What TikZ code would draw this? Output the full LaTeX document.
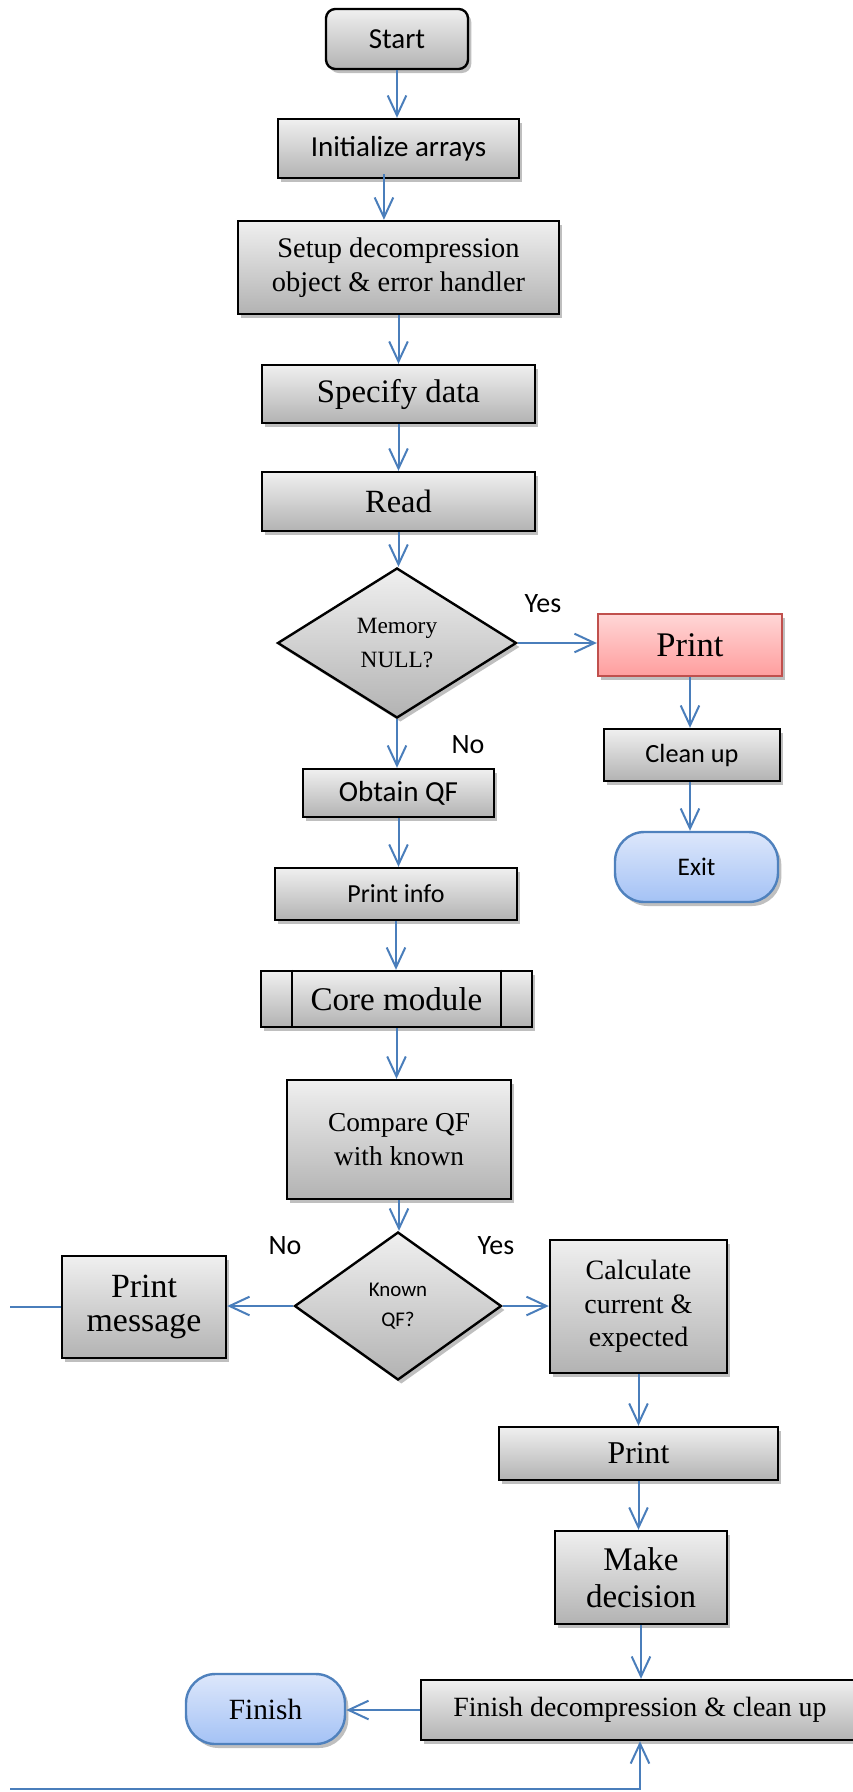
\documentclass[tikz,border=0pt]{standalone}
\usepackage{fontspec}
\setmainfont{Liberation Serif}
\newfontfamily\sans{Carlito}
\usetikzlibrary{shapes.geometric,arrows.meta,shadows}
\definecolor{conn}{HTML}{4A7EBB}
\definecolor{redborder}{HTML}{C0504D}
\definecolor{redtop}{HTML}{FFD6D6}
\definecolor{redbot}{HTML}{FF9E9E}
\definecolor{bluetop}{HTML}{DDE7FB}
\definecolor{bluebot}{HTML}{A4C2F5}
\definecolor{blueborder}{HTML}{4F81BD}
\tikzset{
  sh/.style={drop shadow={shadow xshift=2.5pt,shadow yshift=-3pt,opacity=0.25,fill=black}},
  gbox/.style={draw=black, line width=1.8pt, top color=black!6, bottom color=black!30, sh, inner sep=0pt, align=center, text=black},
  rbox/.style={draw=redborder, line width=1.8pt, top color=redtop, bottom color=redbot, sh, inner sep=0pt, align=center},
  term/.style={draw=blueborder, line width=1.8pt, top color=bluetop, bottom color=bluebot, sh, inner sep=0pt, align=center, rounded corners=22pt},
  dia/.style={diamond, draw=black, line width=1.8pt, top color=black!6, bottom color=black!30, sh, inner sep=0pt, align=center},
  arr/.style={draw=conn, line width=1.5pt, -{Straight Barb[length=15pt,width=14pt]}},
  conline/.style={draw=conn, line width=1.5pt},
  lbl/.style={font=\sans\fontsize{21}{25}\selectfont, inner sep=0pt}
}
\begin{document}
\begin{tikzpicture}[x=0.75pt,y=-0.75pt]
\useasboundingbox (0,0) rectangle (853,1792);
\clip (0,0) rectangle (853,1792);
% nodes
\node[gbox, rounded corners=7pt, minimum width=106.5pt, minimum height=45pt, font=\sans\fontsize{21.75}{26}\selectfont] (start) at (397,39) {Start};
\node[gbox, minimum width=180.75pt, minimum height=44.25pt, font=\sans\fontsize{21.75}{26}\selectfont] (init) at (398.5,148.5) {Initialize arrays};
\node[gbox, minimum width=240.75pt, minimum height=69.75pt, font=\fontsize{21.3}{25}\selectfont] (setup) at (398.5,267.5) {Setup decompression\\object \& error handler};
\node[gbox, minimum width=204.75pt, minimum height=43.5pt, font=\fontsize{24.6}{29}\selectfont] (spec) at (398.5,394) {Specify data};
\node[gbox, minimum width=204.75pt, minimum height=44.25pt, font=\fontsize{24.3}{29}\selectfont] (read) at (398.5,501.5) {Read};
\node[dia, minimum width=179.25pt, minimum height=112.5pt, font=\fontsize{17.5}{25}\selectfont] (mem) at (397,643) {Memory\\NULL?};
\node[rbox, minimum width=138pt, minimum height=46.5pt, font=\fontsize{25.9}{30}\selectfont] (printr) at (690,645) {Print};
\node[gbox, minimum width=132pt, minimum height=39pt, font=\sans\fontsize{19.7}{24}\selectfont] (clean) at (692,755) {Clean up};
\node[term, minimum width=122.25pt, minimum height=52.5pt, font=\sans\fontsize{19}{23}\selectfont] (exit) at (696.5,867) {Exit};
\node[gbox, minimum width=143.25pt, minimum height=36pt, font=\sans\fontsize{21.8}{26}\selectfont] (obtain) at (398.5,793) {Obtain QF};
\node[gbox, minimum width=181.5pt, minimum height=39pt, font=\sans\fontsize{19.5}{24}\selectfont] (info) at (396,894) {Print info};
\node[gbox, minimum width=203.25pt, minimum height=42pt, font=\fontsize{24.8}{29}\selectfont] (core) at (396.5,999) {Core module};
\node[gbox, minimum width=168pt, minimum height=89.25pt, font=\fontsize{20.5}{25}\selectfont] (compare) at (399,1139.5) {Compare QF\\with known};
\node[dia, minimum width=155.25pt, minimum height=111pt, font=\sans\fontsize{15.7}{22}\selectfont] (known) at (398,1306) {Known\\QF?};
\node[gbox, minimum width=123pt, minimum height=76.5pt, font=\fontsize{25.4}{25}\selectfont] (msg) at (144,1307) {Print\\message};
\node[gbox, minimum width=132.75pt, minimum height=99.75pt, font=\fontsize{21}{25}\selectfont] (calc) at (638.5,1306.5) {Calculate\\current \&\\expected};
\node[gbox, minimum width=209.25pt, minimum height=39.75pt, font=\fontsize{23.8}{28}\selectfont] (print2) at (638.5,1453.5) {Print};
\node[gbox, minimum width=129pt, minimum height=69.75pt, font=\fontsize{24.75}{27.5}\selectfont] (make) at (641,1577.5) {Make\\decision};
\node[gbox, minimum width=328.5pt, minimum height=45pt, font=\fontsize{20.9}{25}\selectfont] (fin) at (640,1710) {Finish decompression \& clean up};
\node[term, minimum width=119.25pt, minimum height=52.5pt, font=\fontsize{22}{26}\selectfont] (finish) at (265.5,1709) {Finish};
% predefined process bars
\draw[black, line width=1.8pt] ([xshift=24pt]core.north west) -- ([xshift=24pt]core.south west);
\draw[black, line width=1.8pt] ([xshift=-24pt]core.north east) -- ([xshift=-24pt]core.south east);
% labels
\node[lbl] (yes1) at (543,604) {Yes};
\node[lbl] (no1) at (468,745) {No};
\node[lbl] (no2) at (285,1246) {No};
\node[lbl] (yes2) at (496,1246) {Yes};
% connectors
\draw[arr] (start.south) -- (start.south |- init.north);
\draw[arr] ([xshift=-10.9pt,yshift=3.75pt]init.south) -- ([xshift=-10.9pt]init.south |- setup.north);
\draw[arr] (setup.south) -- (setup.south |- spec.north);
\draw[arr] (spec.south) -- (read.north);
\draw[arr] (read.south) -- (read.south |- mem.north);
\draw[arr] (mem.east) -- (mem.east -| printr.west);
\draw[arr] (printr.south) -- (printr.south |- clean.north);
\draw[arr] (printr.south |- clean.south) -- (printr.south |- exit.north);
\draw[arr] (mem.south) -- (mem.south |- obtain.north);
\draw[arr] (obtain.south) -- (obtain.south |- info.north);
\draw[arr] (info.south) -- (info.south |- core.north);
\draw[arr] (core.south) -- (core.south |- compare.north);
\draw[arr] (compare.south) -- (compare.south |- known.north);
\draw[arr] (known.west) -- (known.west -| msg.east);
\draw[arr] (known.east) -- (known.east -| calc.west);
\draw[arr] (calc.south) -- (calc.south |- print2.north);
\draw[arr] (print2.south) -- (print2.south |- make.north);
\draw[arr] (make.south) -- (make.south |- fin.north);
\draw[arr] (fin.west) -- (fin.west -| finish.east);
\coordinate (lstub) at (10,1307);
\draw[conline] (msg.west) -- (lstub);
\coordinate (bl) at (10,1789);
\draw[arr] (bl) -- (bl -| fin.south) -- (fin.south);
\end{tikzpicture}
\end{document}
